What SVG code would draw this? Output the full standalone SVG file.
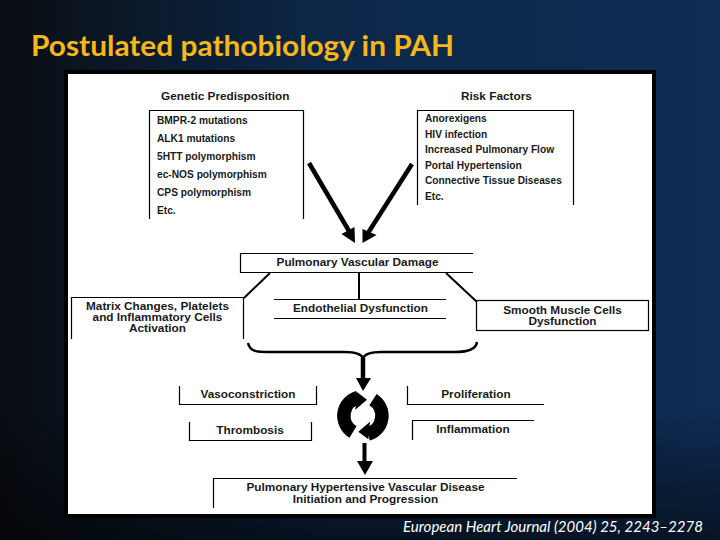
<svg xmlns="http://www.w3.org/2000/svg" width="720" height="540" viewBox="0 0 720 540">
<style>
text{font-family:"Liberation Sans",Arial,sans-serif;fill:#1a1a1a;font-weight:bold}
.h{font-size:11.8px}
.i{font-size:10.2px}
.n{font-size:11.8px;text-anchor:middle}
.b{fill:none;stroke:#000;stroke-width:1.2}
.a{fill:none;stroke:#000;stroke-width:4.500}
.l{fill:none;stroke:#000;stroke-width:2}
.r{fill:none;stroke:#000;stroke-width:13.500}
.ah{fill:#000;stroke:none}
</style>
<defs>
<linearGradient id="bg" x1="0" y1="0" x2="1" y2="0">
<stop offset="0" stop-color="#0a0c12"/><stop offset=".12" stop-color="#0b1522"/><stop offset=".45" stop-color="#0c2748"/><stop offset="1" stop-color="#0e2c54"/>
</linearGradient>
<linearGradient id="bot" x1="0" y1="0" x2="0" y2="1">
<stop offset=".75" stop-color="#000" stop-opacity="0"/><stop offset="1" stop-color="#000" stop-opacity=".55"/>
</linearGradient>
</defs>
<rect width="720" height="540" fill="url(#bg)"/>
<rect width="720" height="540" fill="url(#bot)"/>
<text x="31" y="56" style="font-family:Lato,'Open Sans',sans-serif;font-size:28px;fill:#f5b71a" textLength="423" lengthAdjust="spacingAndGlyphs">Postulated pathobiology in PAH</text>
<rect x="66" y="72" width="588" height="444" fill="#fff" stroke="#000" stroke-width="4"/>

<g id="connectors">
<path class="a" d="M309 163L349 231"/><path class="ah" d="M355 243L341.500 234L354.500 227Z"/>
<path class="a" d="M412 164L368 233"/><path class="ah" d="M362.500 243L362.500 229L376.500 235Z"/>
<path class="l" d="M270 273L244 298M446 273L477 302M359 273V299"/>
<path d="M248 343C250 352 258 352 268 352H345C356 352 361 354 363 358C365 354 370 352 381 352H455C467 352 476 350 477 342" fill="none" stroke="#000" stroke-width="2.500"/>
<path d="M363 358V380" fill="none" stroke="#000" stroke-width="4.500"/><path class="ah" d="M356 378H371L363 391Z"/>
<path d="M364.500 443V463" fill="none" stroke="#000" stroke-width="4"/><path class="ah" d="M357 461H373L365 475Z"/>
<path class="r" d="M353 432A19 19 0 0 1 358 397.400"/>
<path class="ah" d="M367 399.700L355.300 409.700L357 392Z"/>
<path class="r" d="M373 399.600A19 19 0 0 1 368 434"/>
<path class="ah" d="M358.300 431.700L370 421.700L368.300 439.300Z"/>
</g>

<g id="genetic">
<text class="h" x="161" y="100">Genetic Predisposition</text>
<path class="b" d="M149.500 219V110.500H303.500V219"/>
<text class="i" x="157" y="124">BMPR-2 mutations</text>
<text class="i" x="157" y="142">ALK1 mutations</text>
<text class="i" x="157" y="160">5HTT polymorphism</text>
<text class="i" x="157" y="178">ec-NOS polymorphism</text>
<text class="i" x="157" y="196">CPS polymorphism</text>
<text class="i" x="157" y="214">Etc.</text>
</g>
<g id="risk">
<text class="h" x="461" y="100">Risk Factors</text>
<path class="b" d="M417.500 205V110.500H573.500V205"/>
<text class="i" x="425" y="122">Anorexigens</text>
<text class="i" x="425" y="138">HIV infection</text>
<text class="i" x="425" y="153">Increased Pulmonary Flow</text>
<text class="i" x="425" y="169">Portal Hypertension</text>
<text class="i" x="425" y="184">Connective Tissue Diseases</text>
<text class="i" x="425" y="200">Etc.</text>
</g>
<g id="damage">
<path class="b" d="M473 253.500H240.500V272.500H473"/>
<text class="n" x="357.500" y="266">Pulmonary Vascular Damage</text>
</g>
<g id="matrix">
<path class="b" d="M71.500 339V297.500H243.500V339"/>
<text class="n" x="157.500" y="310">Matrix Changes, Platelets</text>
<text class="n" x="157.500" y="321">and Inflammatory Cells</text>
<text class="n" x="157.500" y="332">Activation</text>
</g>
<g id="endothelial">
<path class="b" d="M274 299.500H446M274 318.500H446"/>
<text class="n" x="360.500" y="312">Endothelial Dysfunction</text>
</g>
<g id="smooth">
<rect class="b" x="476.500" y="300.500" width="172" height="30"/>
<text class="n" x="562.500" y="314">Smooth Muscle Cells</text>
<text class="n" x="562.500" y="325">Dysfunction</text>
</g>
<g id="vasoconstriction">
<path class="b" d="M179.500 386V404.500H316.500V386"/>
<text class="n" x="248" y="398">Vasoconstriction</text>
</g>
<g id="thrombosis">
<path class="b" d="M189.500 422V440.500H311.500V422"/>
<text class="n" x="250" y="434">Thrombosis</text>
</g>
<g id="proliferation">
<path class="b" d="M407.500 386V404.500H544"/>
<text class="n" x="476" y="398">Proliferation</text>
</g>
<g id="inflammation">
<path class="b" d="M412.500 440V420.500H534"/>
<text class="n" x="473" y="433">Inflammation</text>
</g>
<g id="disease">
<path class="b" d="M213.500 508V478.500H517"/>
<text class="n" x="365.500" y="491">Pulmonary Hypertensive Vascular Disease</text>
<text class="n" x="365.500" y="503">Initiation and Progression</text>
</g>
<text x="403" y="532" style="font-family:Lato,'Open Sans',sans-serif;font-size:15px;font-style:italic;font-weight:normal;fill:#fff" textLength="300" lengthAdjust="spacingAndGlyphs">European Heart Journal (2004) 25, 2243–2278</text>
</svg>
